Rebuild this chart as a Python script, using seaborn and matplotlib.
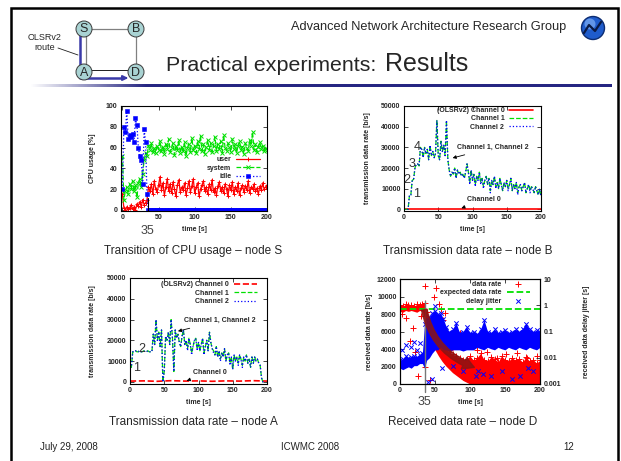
import numpy as np
import matplotlib
matplotlib.use("Agg")
import matplotlib.pyplot as plt
import seaborn as sns
from matplotlib.patches import Circle
from matplotlib.colors import LinearSegmentedColormap

# values (2 s sampling grid for the line plots)
t2 = np.arange(0, 201, 2)

cpu_user = [15, 2, 0, 3, 1, 2, 5, 1, 3, 0,
            6, 4, 8, 3, 10, 5, 7, 10, 22, 18,
            25, 15, 28, 20, 17, 24, 32, 19, 26, 14,
            22, 30, 18, 25, 16, 27, 20, 13, 24, 29,
            17, 22, 19, 26, 14, 21, 28, 17, 23, 30,
            16, 22, 26, 13, 20, 24, 28, 18, 22, 15,
            25, 19, 29, 17, 21, 14, 23, 27, 18, 22,
            16, 25, 20, 13, 24, 19, 27, 15, 22, 18,
            26, 14, 21, 24, 17, 23, 19, 28, 16, 22,
            20, 25, 18, 21, 15, 23, 19, 26, 20, 22,
            24]
cpu_system = [52, 10, 18, 22, 15, 25, 20, 28, 18, 24,
              12, 26, 30, 22, 35, 48, 55, 52, 62, 58,
              64, 56, 60, 55, 62, 58, 66, 57, 61, 54,
              63, 59, 68, 56, 60, 64, 53, 62, 58, 67,
              55, 61, 57, 65, 52, 60, 63, 56, 69, 58,
              62, 55, 66, 59, 71, 57, 63, 54, 61, 67,
              58, 64, 56, 62, 70, 57, 63, 59, 66, 55,
              72, 60, 57, 64, 61, 56, 68, 59, 63, 55,
              62, 66, 58, 61, 54, 64, 60, 57, 67, 62,
              75, 58, 63, 56, 61, 65, 59, 62, 57, 60,
              58]
cpu_idle = [20, 80, 75, 95, 68, 72, 70, 73, 65, 88,
            82, 60, 52, 48, 25, 78, 65, 15, 0, 0] + [0] * 81

b_ch0_t = [0, 200]
b_ch0 = [0, 0]
b_ch1 = [0, 0, 0, 0, 7000, 7000, 14000, 14500, 20000, 22000,
         22000, 21000, 30000, 29000, 25000, 30000, 27000, 29000, 24000, 31000,
         26000, 28000, 25000, 27000, 43000, 26000, 24000, 33000, 28000, 31000,
         26000, 43000, 24000, 19000, 16000, 18000, 17000, 20000, 15000, 19000,
         17000, 18000, 16000, 17000, 15000, 18000, 22000, 18000, 13000, 19000,
         14000, 17000, 12000, 16000, 14000, 18000, 13000, 15000, 11000, 14000,
         16000, 12000, 15000, 9000, 14000, 12000, 16000, 11000, 13000, 10000,
         15000, 12000, 9000, 13000, 11000, 14000, 10000, 12000, 15000, 9000,
         12000, 10000, 13000, 8000, 11000, 12000, 9000, 11000, 13000, 8000,
         10000, 12000, 9000, 11000, 10000, 8000, 11000, 9000, 7000, 10000,
         6000]
b_ch2 = [0, 0, 0, 0, 7000, 7000, 14000, 14500, 20000, 22000,
         22000, 21000, 30000, 29000, 25000, 30000, 27000, 29000, 24000, 31000,
         26000, 28000, 25000, 27000, 43000, 26000, 24000, 33000, 28000, 31000,
         26000, 43000, 24000, 19000, 16000, 18000, 17000, 20000, 15000, 19000,
         17000, 18000, 16000, 17000, 15000, 18000, 22000, 18000, 12000, 19000,
         14000, 17000, 11000, 16000, 14000, 18000, 12000, 15000, 10000, 14000,
         16000, 12000, 15000, 8000, 14000, 12000, 16000, 10000, 13000, 10000,
         15000, 12000, 9000, 13000, 11000, 14000, 9000, 12000, 15000, 9000,
         12000, 10000, 13000, 7000, 11000, 12000, 9000, 11000, 13000, 8000,
         10000, 12000, 8000, 11000, 10000, 8000, 11000, 9000, 7000, 10000,
         6000]

a_ch0_t = [0, 20, 40, 60, 80, 100, 120, 140, 160, 180, 200]
a_ch0 = [400, 500, 300, 600, 400, 500, 300, 500, 400, 600, 400]
a_ch1 = [7000, 7000, 14500, 14500, 15000, 14500, 14500, 15000, 14500, 14500,
         15000, 14500, 14500, 15000, 14500, 14500, 14500, 23000, 18000, 30000,
         20000, 24000, 17000, 25000, 0, 5000, 22000, 20000, 24000, 18000,
         30000, 21000, 5000, 25000, 21000, 23000, 19000, 17000, 22000, 25000,
         18000, 20000, 16000, 21000, 18000, 14000, 17000, 20000, 21000, 16000,
         19000, 15000, 18000, 21000, 14000, 17000, 20000, 15000, 24000, 19000,
         16000, 15000, 13000, 17000, 12000, 15000, 11000, 14000, 12000, 16000,
         10000, 13000, 14000, 9000, 12000, 6000, 13000, 10000, 12000, 9000,
         13000, 11000, 8000, 12000, 10000, 13000, 9000, 11000, 7000, 12000,
         9000, 12000, 10000, 11000, 9000, 8000, 2000, 0, 0, np.nan,
         np.nan]
a_ch2 = [7000, 7000, 14500, 14500, 15000, 14500, 14500, 15000, 14500, 14500,
         15000, 14500, 14500, 15000, 14500, 14500, 14500, 23000, 18000, 30000,
         20000, 24000, 17000, 25000, 0, 5000, 22000, 20000, 24000, 18000,
         30000, 21000, 5000, 25000, 21000, 23000, 19000, 17000, 22000, 25000,
         18000, 20000, 15000, 21000, 18000, 13000, 17000, 20000, 21000, 15000,
         19000, 15000, 18000, 21000, 13000, 17000, 20000, 15000, 24000, 19000,
         16000, 14000, 13000, 17000, 12000, 15000, 10000, 14000, 12000, 16000,
         10000, 13000, 14000, 8000, 12000, 6000, 13000, 10000, 12000, 8000,
         13000, 11000, 7000, 12000, 10000, 13000, 9000, 11000, 7000, 12000,
         9000, 12000, 10000, 11000, 9000, 8000, 2000, 0, 0, np.nan,
         np.nan]

# node D: dense clouds given as envelopes, plus the stray points
d_band_t = [0, 4, 8, 12, 16, 20, 24, 28, 32, 35, 38, 42, 46, 50, 55, 60, 65, 70, 75, 80, 85, 90,
            95, 100, 105, 110, 115, 120, 125, 130, 135, 140, 145, 150, 155, 160, 165, 170, 175,
            180, 185, 190, 195, 200]
d_rate_lo = [8300, 8200, 8400, 8300, 8400, 8300, 8200, 8400, 8300, 7500, 6500, 5400, 4600, 3900,
             3200, 2600, 2100, 1700, 1300, 1000, 700, 400, 200] + [0] * 21
d_rate_hi = [9000, 8900, 9100, 9000, 9000, 8900, 9100, 9000, 9200, 9300, 8200, 7400, 6600, 5800,
             5100, 4600, 4100, 3700, 3400, 3200, 3000, 2800, 2900, 3200, 2700, 3000, 3500, 2800,
             2600, 3100, 2900, 2500, 3200, 2800, 2600, 3000, 2700, 2900, 2500, 3100, 2600, 2800,
             2400, 2700]
d_rate_pts_t = [3, 8, 14, 19, 21, 26, 30, 36, 36, 43, 48, 52, 55, 59, 61, 64, 71, 81, 86, 90, 96,
                100, 110, 124, 138, 152, 167, 181, 195]
d_rate_pts = [8000, 7600, 4900, 6400, 3700, 900, 7800, 11200, 2000, 500, 10000, 11000, 9200, 8600,
              7300, 8100, 3900, 5100, 5800, 5400, 4900, 4300, 3900, 3700, 3000, 3400, 3500, 3000,
              3200]
d_expected_t = [0, 200]
d_expected = [8600, 8600]

d_jit_t = [0, 4, 8, 12, 16, 20, 24, 28, 32, 35, 38, 42, 46, 50, 54, 58, 62, 66, 70, 75, 80, 85,
           90, 95, 100, 105, 110, 115, 120, 125, 130, 135, 140, 145, 150, 155, 160, 165, 170,
           175, 180, 185, 190, 195, 200]
d_jit_lo = [0.004, 0.0035, 0.004, 0.0045, 0.004, 0.005, 0.005, 0.006, 0.006,
            0.004, 0.008, 0.01, 0.015, 0.02, 0.02, 0.025, 0.02, 0.02, 0.018,
            0.02, 0.02, 0.02, 0.018, 0.02, 0.02,
            0.02, 0.025, 0.022, 0.02, 0.025, 0.022, 0.02, 0.025, 0.022, 0.02,
            0.025, 0.022, 0.02, 0.025, 0.022, 0.02, 0.025, 0.022, 0.02, 0.025]
d_jit_hi = [0.008, 0.009, 0.012, 0.01, 0.011, 0.012, 0.011, 0.013, 0.015,
            0.2, 0.3, 0.35, 0.5, 0.6, 0.45, 0.5, 0.3, 0.15, 0.1,
            0.12, 0.22, 0.09, 0.1, 0.15, 0.09,
            0.1, 0.08, 0.12, 0.28, 0.1, 0.09, 0.12, 0.09, 0.1, 0.11,
            0.09, 0.1, 0.12, 0.1, 0.13, 0.2, 0.12, 0.1, 0.11, 0.1]
d_jit_pts_t = [3, 8, 15, 20, 24, 29, 40, 45, 50, 60, 75, 90, 108, 112, 118, 130, 145, 160, 172, 183, 190]
d_jit_pts = [0.02, 0.03, 0.025, 0.04, 0.02, 0.035, 0.0012, 0.0016, 0.9, 0.004, 0.005, 0.003, 0.002,
             0.003, 0.0025, 0.002, 0.003, 0.0015, 0.002, 0.004, 0.003]

RED, GREEN, BLUE = "#ff0000", "#00e000", "#0000ff"
BOLD = {"size": 5, "weight": "bold"}

sns.set_style("ticks")
plt.rcParams["font.family"] = ["Liberation Sans", "DejaVu Sans"]
plt.rcParams["axes.linewidth"] = 0.8

fig = plt.figure(figsize=(6.21, 4.61), dpi=100)


def px_axes(left, top, right, bottom):
    return fig.add_axes([left / 621, 1 - bottom / 461, (right - left) / 621, (bottom - top) / 461])


def finish(ax, right=True):
    ax.tick_params(direction="in", top=True, right=right, length=3, width=0.6, pad=2.5, labelsize=5)
    for lab in ax.get_xticklabels() + ax.get_yticklabels():
        lab.set_fontweight("bold")
    for s in ax.spines.values():
        s.set_color("black")
        s.set_linewidth(0.8)


def small_legend(ax, anchor, handles=None, labels=None):
    if handles is None:
        handles, labels = ax.get_legend_handles_labels()
    ax.legend(handles, labels, loc="upper right", bbox_to_anchor=anchor, prop=BOLD, markerfirst=False,
              frameon=False, handlelength=3.4, handletextpad=0.7, labelspacing=0.2,
              borderaxespad=0, borderpad=0)


# ---------- slide decoration (pixel coordinates) ----------
deco = fig.add_axes([0, 0, 1, 1])
deco.set_xlim(0, 621)
deco.set_ylim(461, 0)
deco.axis("off")
deco.plot([11, 11, 618, 618], [461, 8.5, 8.5, 461], color="black", lw=1.8, solid_joinstyle="miter")
navy = LinearSegmentedColormap.from_list("bar", ["white", "#262682"])
deco.imshow(np.clip(np.linspace(0, 5, 400), 0, 1)[None, :], cmap=navy, aspect="auto",
            extent=(30, 612, 87.5, 84.5))

nodes = {"S": (84, 29), "B": (136, 29), "A": (84, 72), "D": (136, 72)}
deco.plot([84, 136, 136], [29, 29, 72], color="#808080", lw=0.9)
deco.plot([86, 86], [29, 72], color="#808080", lw=0.9)
deco.plot([84, 136], [70, 70], color="#202020", lw=0.7)
deco.plot([80, 80, 124], [33, 78, 78], color="#3a3aa8", lw=1.8, solid_capstyle="butt")
deco.annotate("", xy=(131, 78), xytext=(122, 78),
              arrowprops=dict(arrowstyle="-|>", color="#3a3aa8", lw=1.5, mutation_scale=7))
for name, (x, y) in nodes.items():
    deco.add_patch(Circle((x, y), 8, fc="#a9d3d3", ec="#3a3a3a", lw=0.7, zorder=3))
    deco.text(x, y + 0.5, name, ha="center", va="center", fontsize=9, zorder=4)
deco.text(45, 38, "OLSRv2", ha="center", va="center", fontsize=6.5)
deco.text(45, 48, "route", ha="center", va="center", fontsize=6.5)
deco.plot([58, 78], [48, 55], color="#202020", lw=0.6)

deco.add_patch(Circle((593, 28), 11.5, fc="#1f5ccc", ec="#0d2d72", lw=1))
deco.add_patch(Circle((590, 24), 5.5, fc="#7fb0f5", ec="none", alpha=0.7))
deco.plot([584, 589, 595, 601], [33, 25, 31, 22], color="#0a1a45", lw=1.6)

deco.text(566, 27, "Advanced Network Architecture Research Group", ha="right", va="center", fontsize=9.2)
deco.text(166, 71, "Practical experiments:", ha="left", va="baseline", fontsize=15.4)
deco.text(385, 71, "Results", ha="left", va="baseline", fontsize=18)

deco.text(193, 251, "Transition of CPU usage \u2013 node S", ha="center", va="center", fontsize=8.5)
deco.text(468, 251, "Transmission data rate \u2013 node B", ha="center", va="center", fontsize=8.5)
deco.text(193, 422, "Transmission data rate \u2013 node A", ha="center", va="center", fontsize=8.5)
deco.text(463, 422, "Received data rate \u2013 node D", ha="center", va="center", fontsize=8.5)

deco.text(40, 447, "July 29, 2008", ha="left", va="center", fontsize=7, color="#222222")
deco.text(310, 447, "ICWMC 2008", ha="center", va="center", fontsize=7, color="#222222")
deco.text(569, 447, "12", ha="center", va="center", fontsize=7, color="#222222")

# ---------- CPU usage, node S ----------
ax = px_axes(121, 106, 267, 211)
sns.lineplot(x=t2, y=cpu_user, ax=ax, color=RED, lw=0.9, marker="+", ms=3, mec=RED, mew=0.7,
             errorbar=None, label="user")
sns.lineplot(x=t2, y=cpu_system, ax=ax, color=GREEN, lw=0.9, ls="--", marker="x", ms=2.5, mec=GREEN,
             mew=0.7, errorbar=None, label="system")
sns.lineplot(x=t2, y=cpu_idle, ax=ax, color=BLUE, lw=0.9, ls=":", marker="s", ms=2.6, mec=BLUE, mfc=BLUE,
             mew=0.4, errorbar=None, label="idle")
ax.axvline(35, ymax=0.12, color="black", lw=0.8)
ax.text(35, -0.19, "35", transform=ax.get_xaxis_transform(), ha="center", va="center", fontsize=9,
        color="#444444")
ax.set_xlim(-2, 200)
ax.set_ylim(-1, 100)
ax.set_xticks([0, 50, 100, 150, 200])
ax.set_yticks([0, 20, 40, 60, 80, 100])
ax.set_xlabel("time [s]", fontdict=BOLD, labelpad=3)
ax.set_ylabel("CPU usage [%]", fontdict=BOLD, labelpad=7)
small_legend(ax, (0.95, 0.52))
finish(ax)

# ---------- transmission data rate, node B ----------
ax = px_axes(404, 106, 541, 211)
sns.lineplot(x=b_ch0_t, y=b_ch0, ax=ax, color=RED, lw=1.2, errorbar=None, label="(OLSRv2) Channel 0")
sns.lineplot(x=t2, y=b_ch1, ax=ax, color=GREEN, lw=0.9, ls="--", errorbar=None, label="Channel 1")
sns.lineplot(x=t2, y=b_ch2, ax=ax, color=BLUE, lw=0.9, ls=":", errorbar=None, label="Channel 2")
for txt, x, y in [("1", 18.5, 7400), ("2", 4.4, 14200), ("3", 11.7, 21900), ("4", 19, 30100)]:
    ax.text(x, y, txt, ha="center", va="center", fontsize=9, color="#333333")
ax.annotate("Channel 1, Channel 2", xy=(67, 24500), xytext=(78, 30000), fontsize=5, fontweight="bold",
            va="center", arrowprops=dict(arrowstyle="-|>", lw=0.6, color="black", mutation_scale=5))
ax.annotate("Channel 0", xy=(80, 0), xytext=(92, 5000), fontsize=5, fontweight="bold", va="center",
            arrowprops=dict(arrowstyle="-|>", lw=0.6, color="black", mutation_scale=5))
ax.set_xlim(0, 200)
ax.set_ylim(-800, 50000)
ax.set_xticks([0, 50, 100, 150, 200])
ax.set_yticks([0, 10000, 20000, 30000, 40000, 50000])
ax.set_xlabel("time [s]", fontdict=BOLD, labelpad=3)
ax.set_ylabel("transmission data rate [b/s]", fontdict=BOLD, labelpad=7)
small_legend(ax, (0.94, 0.99))
finish(ax)

# ---------- transmission data rate, node A ----------
ax = px_axes(130, 278, 267, 384)
sns.lineplot(x=a_ch0_t, y=a_ch0, ax=ax, color=RED, lw=1.2, ls="--", errorbar=None,
             label="(OLSRv2) Channel 0")
sns.lineplot(x=t2, y=a_ch1, ax=ax, color=GREEN, lw=0.9, ls="--", errorbar=None, label="Channel 1")
sns.lineplot(x=t2, y=a_ch2, ax=ax, color=BLUE, lw=0.9, ls=":", errorbar=None, label="Channel 2")
ax.text(10, 6700, "1", ha="center", va="center", fontsize=9, color="#333333")
ax.text(17, 15800, "2", ha="center", va="center", fontsize=9, color="#333333")
ax.annotate("Channel 1, Channel 2", xy=(66, 24100), xytext=(79, 29400), fontsize=5, fontweight="bold",
            va="center", arrowprops=dict(arrowstyle="-|>", lw=0.6, color="black", mutation_scale=5))
ax.annotate("Channel 0", xy=(79, 150), xytext=(92, 4500), fontsize=5, fontweight="bold", va="center",
            arrowprops=dict(arrowstyle="-|>", lw=0.6, color="black", mutation_scale=5))
ax.set_xlim(0, 200)
ax.set_ylim(-1000, 50000)
ax.set_xticks([0, 50, 100, 150, 200])
ax.set_yticks([0, 10000, 20000, 30000, 40000, 50000])
ax.set_xlabel("time [s]", fontdict=BOLD, labelpad=3)
ax.set_ylabel("transmission data rate [b/s]", fontdict=BOLD, labelpad=8)
small_legend(ax, (0.93, 0.97))
finish(ax)

# ---------- received data rate, node D ----------
ax = px_axes(400, 279, 540, 384)
ax2 = ax.twinx()
ax2.set_yscale("log")
ax.fill_between(d_band_t, d_rate_lo, d_rate_hi, color=RED, lw=0)
sns.scatterplot(x=d_band_t, y=d_rate_hi, ax=ax, marker="+", color=RED, s=14, linewidth=0.7)
sns.scatterplot(x=d_rate_pts_t, y=d_rate_pts, ax=ax, marker="+", color=RED, s=14, linewidth=0.7,
                label="data rate")
sns.lineplot(x=d_expected_t, y=d_expected, ax=ax, color=GREEN, lw=1.3, ls="--", errorbar=None,
             label="expected data rate")
ax2.fill_between(d_jit_t, d_jit_lo, d_jit_hi, color=BLUE, lw=0)
sns.scatterplot(x=d_jit_t, y=d_jit_hi, ax=ax2, marker="x", color=BLUE, s=10, linewidth=0.7)
sns.scatterplot(x=d_jit_pts_t, y=d_jit_pts, ax=ax2, marker="x", color=BLUE, s=10, linewidth=0.7,
                label="delay jitter")
ax2.axvline(35, ymin=-0.08, ymax=0.79, color="#777777", lw=1, clip_on=False)
ax2.annotate("", xy=(110, 1800), xytext=(34, 8800), xycoords=ax.transData, textcoords=ax.transData,
             arrowprops=dict(arrowstyle="simple,head_width=0.9,head_length=0.8,tail_width=0.4",
                             connectionstyle="arc3,rad=0.3", color="#8b1414", alpha=0.85,
                             mutation_scale=10))
ax.text(35, -0.17, "35", transform=ax.get_xaxis_transform(), ha="center", va="center", fontsize=9,
        color="#444444")
ax.set_xlim(0, 200)
ax.set_ylim(0, 12000)
ax2.set_ylim(0.001, 10)
ax.set_xticks([0, 50, 100, 150, 200])
ax.set_yticks([0, 2000, 4000, 6000, 8000, 10000, 12000])
ax2.set_yticks([0.001, 0.01, 0.1, 1, 10], labels=["0.001", "0.01", "0.1", "1", "10"])
ax2.yaxis.set_minor_locator(matplotlib.ticker.NullLocator())
ax.set_xlabel("time [s]", fontdict=BOLD, labelpad=3)
ax.set_ylabel("received data rate [b/s]", fontdict=BOLD, labelpad=3)
ax2.set_ylabel("received data delay jitter [s]", fontdict=BOLD, labelpad=16)
h1, l1 = ax.get_legend_handles_labels()
h2, l2 = ax2.get_legend_handles_labels()
if ax.get_legend() is not None:
    ax.get_legend().remove()
small_legend(ax2, (0.93, 0.98), h1 + h2, l1 + l2)
finish(ax, right=False)
finish(ax2)

fig.savefig("out.png", dpi=100)
